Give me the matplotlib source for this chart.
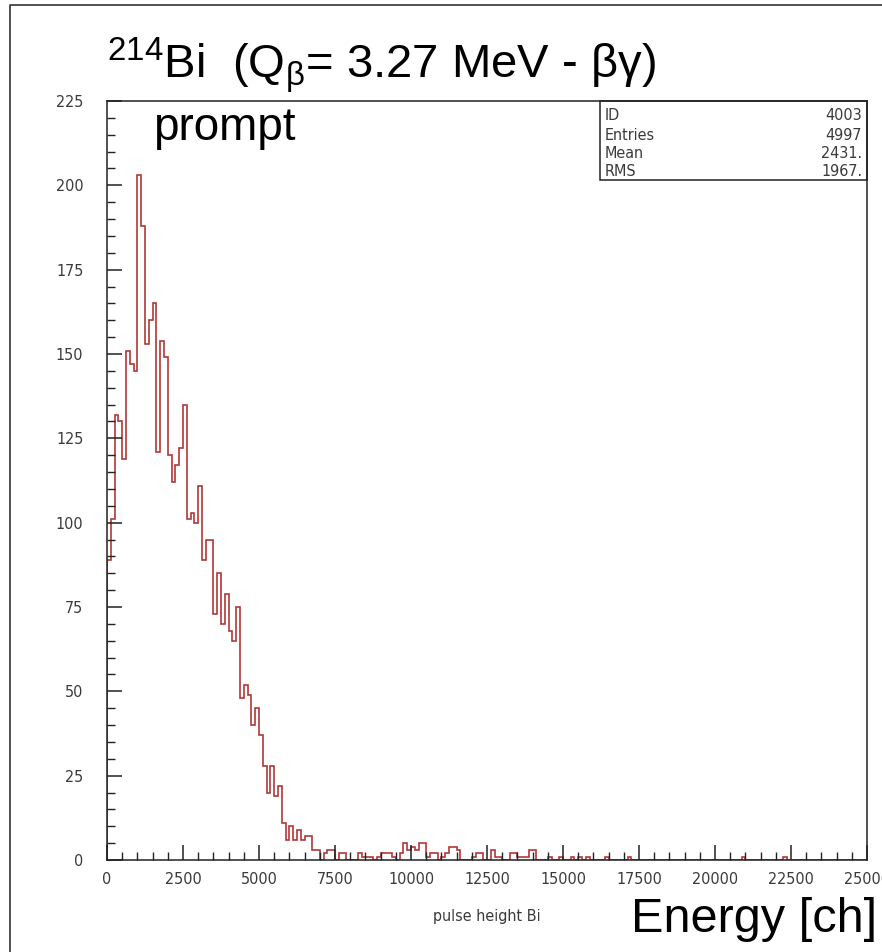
import numpy as np
import matplotlib
matplotlib.use("Agg")
import matplotlib.pyplot as plt
from matplotlib.patches import Rectangle
from matplotlib.lines import Line2D
from matplotlib.ticker import MultipleLocator

plt.rcParams['mathtext.fontset'] = 'custom'
plt.rcParams['mathtext.rm'] = 'Liberation Sans'
plt.rcParams['mathtext.it'] = 'Liberation Sans'

# ---------------- data ----------------
bin_width = 125          # channels per bin (200 bins, 0..25000)
counts = [
    89, 101, 132, 130, 119, 151, 147, 145, 203, 188,
    153, 160, 165, 121, 154, 149, 120, 112, 117, 122,
    135, 101, 103, 100, 111, 89, 95, 95, 73, 85,
    70, 79, 68, 65, 75, 48, 52, 49, 40, 45,
    37, 28, 20, 28, 19, 22, 11, 6, 10, 6,
    9, 6, 7, 7, 3, 3, 0, 2, 3, 3,
    0, 2, 2, 0, 0, 0, 2, 1, 1, 1,
    0, 1, 2, 2, 2, 1, 0, 2, 5, 3,
    4, 3, 5, 5, 1, 2, 2, 0, 1, 2,
    4, 4, 3, 0, 0, 0, 1, 2, 2, 0,
    0, 3, 1, 1, 0, 0, 2, 2, 1, 1,
    1, 3, 3, 0, 0, 0, 1, 0, 0, 1,
    0, 0, 1, 0, 1, 0, 1, 0, 0, 0,
    0, 1, 0, 0, 0, 0, 0, 1, 0, 0,
    0, 0, 0, 0, 0, 0, 0, 0, 0, 0,
    0, 0, 0, 0, 0, 0, 0, 0, 0, 0,
    0, 0, 0, 0, 0, 0, 0, 1, 0, 0,
    0, 0, 0, 0, 0, 0, 0, 0, 1, 0,
    0, 0, 0, 0, 0, 0, 0, 0, 0, 0,
    0, 0, 0, 0, 0, 0, 0, 0, 0, 0,
]
x_ticks = [0, 2500, 5000, 7500, 10000, 12500, 15000, 17500, 20000, 22500, 25000]
y_ticks = [0, 25, 50, 75, 100, 125, 150, 175, 200, 225]
stat_labels = ["ID", "Entries", "Mean", "RMS"]
stat_values = ["4003", "4997", "2431.", "1967."]

title_text = r"$^{\mathrm{214}}$Bi  (Q$_{\mathrm{β}}$= 3.27 MeV - βγ)"
tag_text = "prompt"
xlabel_text = "pulse height Bi"
energy_text = "Energy [ch]"

# ---------------- figure ----------------
W, H = 882, 952
fig = plt.figure(figsize=(W / 100, H / 100), dpi=100)

def fx(px):
    return px / W

def fy(py):
    return 1 - py / H

ax_l, ax_r, ax_t, ax_b = 107, 867, 101, 860
ax = fig.add_axes([fx(ax_l), fy(ax_b), fx(ax_r - ax_l), fy(ax_t) - fy(ax_b)])

edges = np.arange(len(counts) + 1) * bin_width
ax.stairs(counts, edges, color='#b03838', lw=1.2)

ax.set_xlim(0, 25000)
ax.set_ylim(0, 225)
ax.set_xticks(x_ticks)
ax.set_yticks(y_ticks)
ax.xaxis.set_minor_locator(MultipleLocator(500))
ax.yaxis.set_minor_locator(MultipleLocator(5))

tick_font = dict(family='DejaVu Sans', stretch='condensed', size=11.5, color='#3a3a3a')
ax.set_xticklabels([str(v) for v in x_ticks], **tick_font)
ax.set_yticklabels([str(v) for v in y_ticks], **tick_font)

ax.tick_params(which='major', direction='in', length=11, width=1.1, color='#222222')
ax.tick_params(which='minor', direction='in', length=5.5, width=1.0, color='#222222')
ax.tick_params(axis='y', pad=17)
ax.tick_params(axis='x', pad=9)
ax.tick_params(top=False, right=False, which='both')
for s in ax.spines.values():
    s.set_color('#222222')
    s.set_linewidth(1.1)

# stats box
bx0 = (600 - ax_l) / (ax_r - ax_l)
by0 = (ax_b - 180) / (ax_b - ax_t)
ax.add_patch(Rectangle((bx0, by0), 1 - bx0, 1 - by0, transform=ax.transAxes,
                       fill=False, ec='#222222', lw=1.1, clip_on=False))
row_y = [116, 135, 154, 172]
for lab, val, ry in zip(stat_labels, stat_values, row_y):
    ax.text((605 - ax_l) / (ax_r - ax_l), (ax_b - ry) / (ax_b - ax_t), lab,
            transform=ax.transAxes, ha='left', va='center', **tick_font)
    ax.text((862 - ax_l) / (ax_r - ax_l), (ax_b - ry) / (ax_b - ax_t), val,
            transform=ax.transAxes, ha='right', va='center', **tick_font)

# texts
fig.text(fx(107), fy(78), title_text, family='Liberation Sans', size=34,
         ha='left', va='baseline', color='black')
fig.text(fx(153), fy(140), tag_text, family='Liberation Sans', size=33,
         ha='left', va='baseline', color='black')
fig.text(fx(487), fy(921), xlabel_text, ha='center', va='baseline', **tick_font)
fig.text(fx(877), fy(932), energy_text, family='Liberation Sans', size=35,
         ha='right', va='baseline', color='black')

# outer frame (left and top edges visible in the reference)
fig.add_artist(Line2D([fx(10), fx(10), fx(882)], [fy(952), fy(5), fy(5)],
                      transform=fig.transFigure, color='#333333', lw=1.2))

fig.savefig("out.png", dpi=100, facecolor='white')
